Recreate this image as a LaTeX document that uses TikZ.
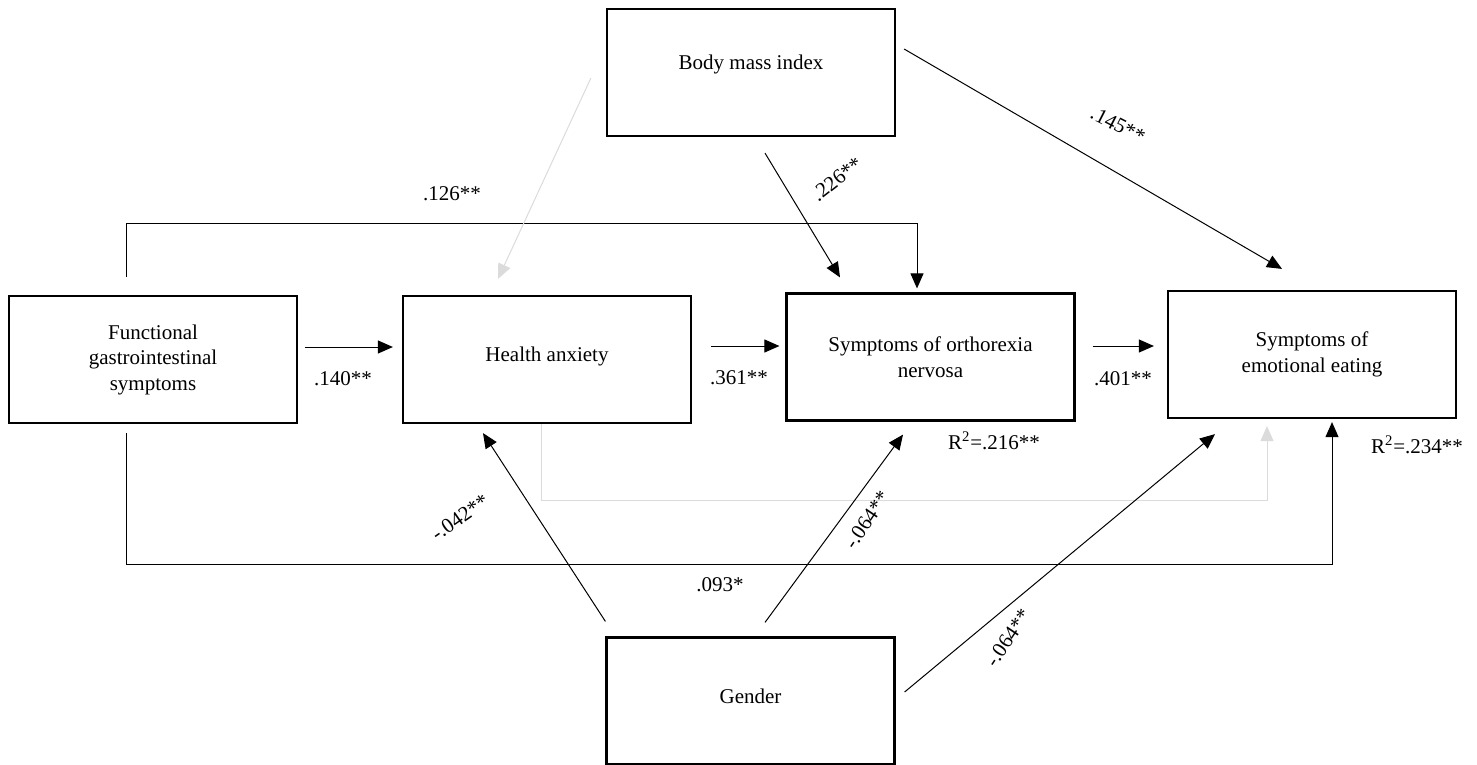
\documentclass[tikz,border=0pt]{standalone}
\usepackage{fontspec}
\setmainfont{Liberation Serif}
\usetikzlibrary{arrows.meta}

\begin{document}
\begin{tikzpicture}[x=0.5pt,y=-0.5pt]
\tikzset{box/.style={draw,line width=1.1pt,minimum width=144pt,minimum height=63.5pt,inner sep=0pt,align=center,font=\fontsize{10.5}{12.75}\selectfont},
arr/.style={line width=0.5pt,-{Triangle[length=7.5pt,width=6.5pt]}},
garr/.style={arr,draw=gray!28},
lab/.style={inner sep=0pt,font=\fontsize{10.5}{12.75}\selectfont}}
\useasboundingbox (0,0) rectangle (1477,765);

\node[box] (bmi) at (751,72.5) {Body mass index\\[-2.25pt]\mbox{}};
\node[box] (fgs) at (153,359.5) {Functional\\gastrointestinal\\symptoms};
\node[box] (ha) at (547,359.5) {Health anxiety\\[-7pt]\mbox{}};
\node[box] (on) at (930.5,357) {Symptoms of orthorexia\\nervosa};
\node[box] (ee) at (1312,354.5) {Symptoms of\\emotional eating};
\node[box] (gen) at (750.5,701) {Gender\\[-8pt]\mbox{}};

% main path
\draw[arr] ([shift={(7,-12.5)}]fgs.east) -- ([shift={(-9,-12.5)}]ha.west);
\draw[arr] ([shift={(19,-13.5)}]ha.east) -- ([shift={(-6,-11)}]on.west);
\draw[arr] ([shift={(17,-11)}]on.east) -- ([shift={(-13,-8.5)}]ee.west);
\draw[arr] ([shift={(-27,-18)}]fgs.north) -- ++(0,-53) -| ([shift={(-13.5,-4)}]on.north);
\draw[arr] ([shift={(-27,9)}]fgs.south) -- ++(0,131) -| ([shift={(20,3)}]ee.south);
\draw[garr] ([shift={(-6,0)}]ha.south) -- ++(0,76) -| ([shift={(-45,7)}]ee.south);

% covariates
\draw[garr] ([shift={(-15,5.5)}]bmi.west) -- ([shift={(-49,-16)}]ha.north);
\draw[arr] ([shift={(14,16)}]bmi.south) -- ([shift={(-90.5,-15)}]on.north);
\draw[arr] ([shift={(8,-23.5)}]bmi.east) -- ([shift={(-30,-21)}]ee.north);
\draw[arr] ([shift={(0,-15)}]gen.north west) -- ([shift={(-64,9)}]ha.south);
\draw[arr] ([shift={(14.5,-14)}]gen.north) -- ([shift={(-27.5,13)}]on.south);
\draw[arr] ([shift={(9,-9)}]gen.east) -- ([shift={(-97,15)}]ee.south);

\node[lab] (c1) at (452,194) {.126**};
\node[lab] (c2) at (343,379) {.140**};
\node[lab] (c3) at (739,378) {.361**};
\node[lab] (c4) at (1123,379) {.401**};
\node[lab] (c5) at (720,585) {.093*};
\node[lab,rotate=38] (c6) at (837,179) {.226**};
\node[lab,rotate=-27] (c7) at (1118,125) {.145**};
\node[lab,rotate=35] (c8) at (460,517) {-.042**};
\node[lab,rotate=56] (c9) at (867,520) {-.064**};
\node[lab,rotate=56] (c10) at (1008,638) {-.064**};
\node[lab] (r1) at (994,441) {R\textsuperscript{2}=.216**};
\node[lab] (r2) at (1417,445) {R\textsuperscript{2}=.234**};
\end{tikzpicture}
\end{document}
